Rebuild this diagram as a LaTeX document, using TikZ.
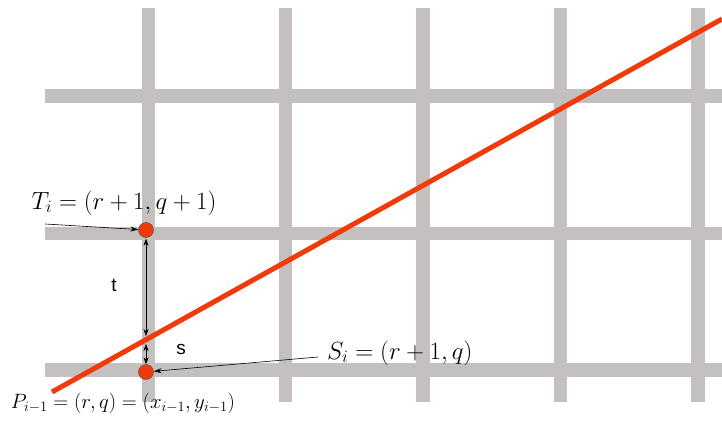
\documentclass[tikz,border=0pt]{standalone}
\usepackage{fontspec}
\newfontfamily\labelsans{Liberation Sans}
\usetikzlibrary{arrows.meta,positioning}
\definecolor{gridgray}{RGB}{196,192,191}
\definecolor{linered}{RGB}{240,58,10}
\tikzset{
  gridbar/.style={draw=gridgray, line width=13.5pt},
  redline/.style={draw=linered, line width=5pt},
  pointdot/.style={circle, fill=linered, draw=black!70, line width=0.4pt, minimum size=15pt, inner sep=0pt},
  pointer/.style={-{Stealth[length=8pt,width=5pt]}, line width=0.6pt},
  gap/.style={{Stealth[length=7pt,width=5pt]}-{Stealth[length=7pt,width=5pt]}, line width=0.6pt},
  mathlabel/.style={font=\fontsize{25}{28}\selectfont, inner sep=0pt},
  gaplabel/.style={font=\labelsans\fontsize{19}{22}\selectfont, inner sep=0pt}
}
\begin{document}
\begin{tikzpicture}[x=1pt, y=-1pt]
  \useasboundingbox (0,0) rectangle (722,422);
  %\draw[color=gray,step=10pt,help lines,opacity=0.3] (0,0) grid (722,422); %help grids
  % pixel grid
  \foreach \gx in {148.5,285.5,423,560.5,698}
    \draw[gridbar] (\gx,8) -- (\gx,402);
  \foreach \gy in {96,233.5,370}
    \draw[gridbar] (45,\gy) -- (722,\gy);
  % the line
  \coordinate (L0) at (52,392);
  \coordinate (L1) at (722,19);
  \draw[redline] (L0) -- (L1);
  % the two candidates
  \node[pointdot] (T) at (146,230) {};
  \node[pointdot] (S) at (146,372) {};
  \coordinate (X) at (146,340);
  \draw[gap, shorten <=1pt, shorten >=4pt] (T) -- (X);
  \draw[gap, shorten <=4pt, shorten >=0pt] (X) -- (S);
  \node[gaplabel] (t) at (114,285) {t};
  \node[gaplabel] (s) at (181,349) {s};
  % labels
  \node[mathlabel] (Tlab) at (124,203) {$T_{i}=(r+1,q+1)$};
  \coordinate (Tfrom) at (45,224);
  \draw[pointer] (Tfrom) -- (T);
  \node[mathlabel, anchor=west] (Slab) at (327,353) {$S_{i}=(r+1,q)$};
  \coordinate (Sfrom) at (318,357);
  \draw[pointer] (Sfrom) -- (S);
  \node[mathlabel, font=\fontsize{21}{24}\selectfont] (Plab) at (123,403) {$P_{i-1}=(r,q)=(x_{i-1},y_{i-1})$};
\end{tikzpicture}
\end{document}
